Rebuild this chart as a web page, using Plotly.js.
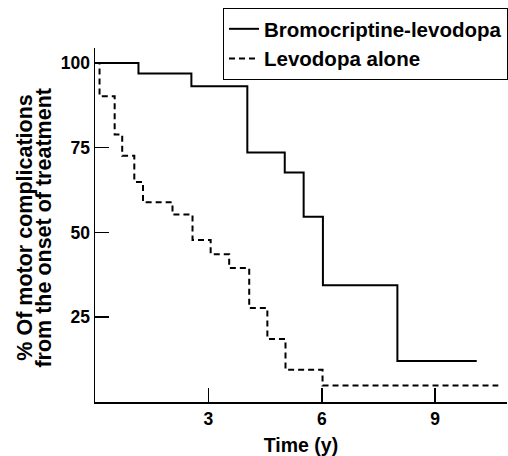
<!DOCTYPE html>
<html>
<head>
<meta charset="utf-8">
<script src="https://cdn.plot.ly/plotly-3.0.1.min.js"></script>
<style>html,body{margin:0;padding:0;background:#fff;}#chart{width:508px;height:456px;}</style>
</head>
<body>
<div id="chart"></div>
<script>
// Bromocriptine-levodopa (solid)
const bromoTime = [0, 1.15, 2.55, 4.03, 5.02, 5.52, 6.03, 8.0, 10.1];
const bromoPct  = [100, 96.9, 93.1, 73.6, 67.7, 54.6, 34.4, 12.1, 12.1];
// Levodopa alone (dashed)
const levoTime = [0, 0.12, 0.52, 0.72, 1.04, 1.27, 2.05, 2.58, 3.06, 3.55, 4.08, 4.56, 5.04, 6.02, 10.67];
const levoPct  = [100, 90.2, 78.9, 72.6, 64.9, 58.9, 55.3, 47.8, 43.6, 39.5, 27.7, 18.6, 9.5, 4.9, 4.9];

const seriesNames = ["Bromocriptine-levodopa", "Levodopa alone"];
const xTickVals = [3, 6, 9];
const xTickText = ["3", "6", "9"];
const yTickVals = [25, 50, 75, 100];
const yTickText = ["25", "50", "75", "100"];
const xTitle = "Time (y)";
const yTitleLines = ["% Of motor complications", "from the onset of treatment"];

const FONT = "Liberation Sans, Arial, Helvetica, sans-serif";

const traces = [
  {x: bromoTime, y: bromoPct, name: seriesNames[0], type: "scatter", mode: "lines",
   line: {shape: "hv", color: "#000", width: 2}},
  {x: levoTime, y: levoPct, name: seriesNames[1], type: "scatter", mode: "lines",
   line: {shape: "hv", color: "#000", width: 2, dash: "6px,4px"}}
];

const axisCommon = {
  showline: true, linecolor: "#000", linewidth: 1.5, mirror: false,
  showgrid: false, zeroline: false,
  ticks: "inside", ticklen: 14, tickwidth: 1.5, tickcolor: "#000",
  tickmode: "array", fixedrange: true
};

const layout = {
  width: 508, height: 456,
  margin: {l: 95, r: 0, t: 48, b: 54},
  paper_bgcolor: "#fff", plot_bgcolor: "#fff",
  font: {family: FONT, color: "#000", size: 17, weight: "bold"},
  showlegend: true,
  legend: {
    x: 0.3107, xanchor: "left", y: 1.113, yanchor: "top",
    bordercolor: "#000", borderwidth: 1, bgcolor: "#fff",
    font: {family: FONT, size: 20.5, color: "#000", weight: "bold"},
    tracegroupgap: 0
  },
  xaxis: Object.assign({}, axisCommon, {
    range: [0, 10.9], tickvals: xTickVals, ticktext: xTickText,
    tickfont: {family: FONT, size: 17.5, color: "#000", weight: "bold"},
    title: {text: xTitle, font: {family: FONT, size: 19.5, color: "#000", weight: "bold"}, standoff: 12}
  }),
  yaxis: Object.assign({}, axisCommon, {
    range: [0, 104.4], tickvals: yTickVals, ticktext: yTickText,
    tickfont: {family: FONT, size: 17.5, color: "#000", weight: "bold"}
  }),
  annotations: [
    {text: yTitleLines[0], xref: "paper", yref: "paper", x: -0.1695, y: 0.493,
     xanchor: "center", yanchor: "middle", textangle: -90, showarrow: false,
     font: {family: FONT, size: 21.5, color: "#000", weight: "bold"}},
    {text: yTitleLines[1], xref: "paper", yref: "paper", x: -0.1235, y: 0.493,
     xanchor: "center", yanchor: "middle", textangle: -90, showarrow: false,
     font: {family: FONT, size: 21.5, color: "#000", weight: "bold"}}
  ]
};

Plotly.newPlot("chart", traces, layout, {displayModeBar: false, staticPlot: true});
</script>
</body>
</html>
